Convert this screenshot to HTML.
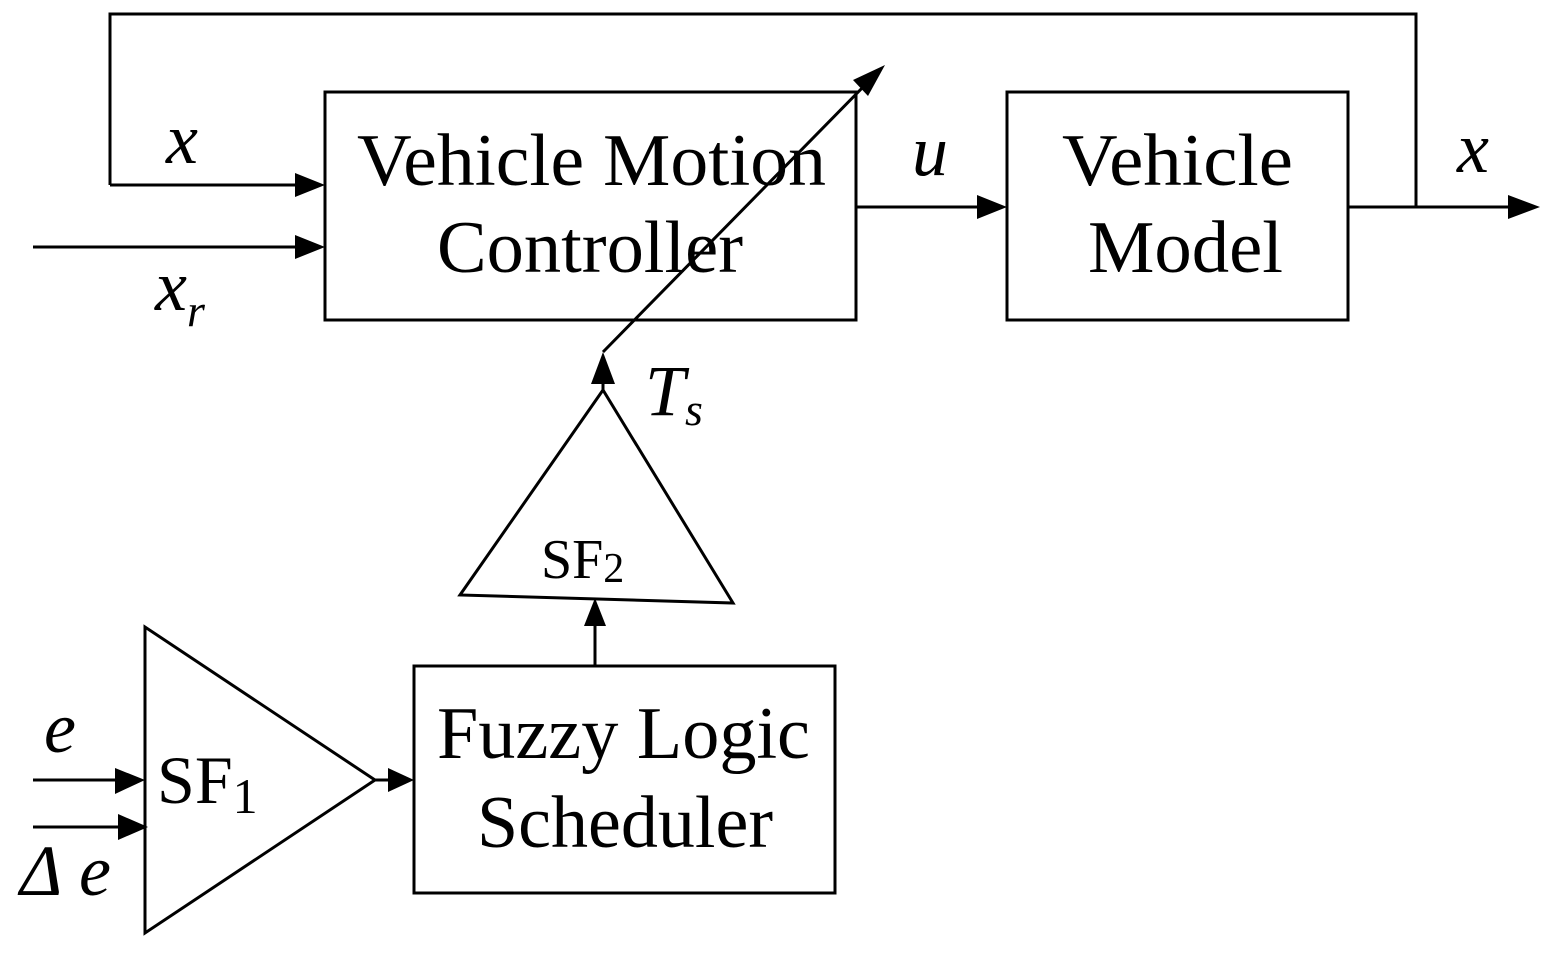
<!DOCTYPE html>
<html><head><style>body{margin:0;background:#fff}svg{display:block}</style></head><body>
<svg width="1550" height="969" viewBox="0 0 1550 969" xmlns="http://www.w3.org/2000/svg" font-family="'Liberation Serif', serif">
<g stroke="#000" stroke-width="3" fill="none">
<polyline points="110,185 110,14 1416,14 1416,207"/>
<line x1="110" y1="185" x2="300" y2="185"/>
<line x1="33" y1="247" x2="300" y2="247"/>
<rect x="325" y="92" width="531" height="228"/>
<line x1="856" y1="207" x2="982" y2="207"/>
<rect x="1007" y="92" width="341" height="228"/>
<line x1="1348" y1="207" x2="1512" y2="207"/>
<line x1="603" y1="390" x2="603" y2="378"/>
<polyline points="603,352 868,82"/>
<polygon points="603,390 460,595 733,603"/>
<line x1="595" y1="666" x2="595" y2="622"/>
<rect x="414" y="666" width="421" height="227"/>
<polygon points="145,627 145,933 375,780"/>
<line x1="375" y1="780" x2="392" y2="780"/>
<line x1="33" y1="780" x2="120" y2="780"/>
<line x1="33" y1="827" x2="120" y2="827"/>
</g>
<g fill="#000">
<polygon points="325,185 295,173 295,197"/>
<polygon points="325,247 295,235 295,259"/>
<polygon points="1007,207 977,195 977,219"/>
<polygon points="1540,207 1508,195 1508,219"/>
<polygon points="603,352 591,384 615,384"/>
<polygon points="885,65 853,80 868,96"/>
<polygon points="595,598 584,626 606,626"/>
<polygon points="414,780 388,768 388,792"/>
<polygon points="145,780 115,768 115,794"/>
<polygon points="148,827 118,814 118,840"/>
</g>
<g font-size="74">
<text x="357" y="185" textLength="469" lengthAdjust="spacingAndGlyphs">Vehicle Motion</text>
<text x="437" y="272" textLength="306" lengthAdjust="spacingAndGlyphs">Controller</text>
<text x="1062" y="185" textLength="231" lengthAdjust="spacingAndGlyphs">Vehicle</text>
<text x="1088" y="272" textLength="195" lengthAdjust="spacingAndGlyphs">Model</text>
<text x="437" y="758" textLength="373" lengthAdjust="spacingAndGlyphs">Fuzzy Logic</text>
<text x="477" y="847" textLength="296" lengthAdjust="spacingAndGlyphs">Scheduler</text>
</g>
<text x="157" y="803" font-size="68">SF<tspan font-size="50" dy="10">1</tspan></text>
<text x="541" y="578" font-size="56">SF<tspan font-size="42" dy="4">2</tspan></text>
<g font-style="italic" font-size="72">
<text x="166" y="163">x</text>
<text x="912" y="175">u</text>
<text x="1457" y="172">x</text>
<text x="155" y="310">x<tspan font-size="46" dy="16">r</tspan></text>
<text x="645" y="415">T<tspan font-size="46" dy="10">s</tspan></text>
<text x="44" y="752">e</text>
<text x="20" y="895">Δ e</text>
</g>
</svg>
</body></html>
